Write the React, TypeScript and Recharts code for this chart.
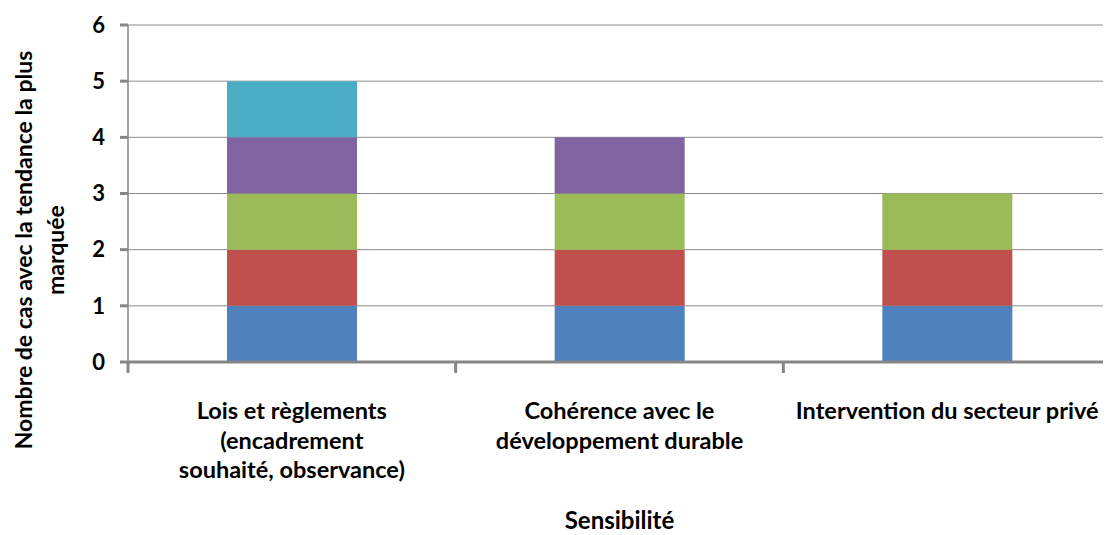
import React from 'react';
import { BarChart, Bar, XAxis, YAxis, CartesianGrid } from 'recharts';

const categories = [
  ['Lois et règlements', '(encadrement', 'souhaité, observance)'],
  ['Cohérence avec le', 'développement durable'],
  ['Intervention du secteur privé'],
];

// one array per stacked series, bottom to top
const serie1 = [1, 1, 1];
const serie2 = [1, 1, 1];
const serie3 = [1, 1, 1];
const serie4 = [1, 1, 0];
const serie5 = [1, 0, 0];

const yTicks = [0, 1, 2, 3, 4, 5, 6];

const seriesColors = ['#4F81BD', '#C0504D', '#9BBB59', '#8064A2', '#4BACC6'];

const data = categories.map((lines, i) => ({
  name: lines.join(' '),
  lines,
  s1: serie1[i],
  s2: serie2[i],
  s3: serie3[i],
  s4: serie4[i],
  s5: serie5[i],
}));

const FONT = 'Lato, "Liberation Sans", sans-serif';

const CategoryTick = (props: any) => {
  const { x, y, payload, index } = props;
  const lines = categories[index] || [payload.value];
  const band = 983 / 3;
  return (
    <g>
      <line x1={x - band / 2} x2={x - band / 2} y1={y - 8} y2={y + 3} stroke="#868686" strokeWidth={3} />
      <text x={x} y={y + 49} textAnchor="middle" fontFamily={FONT} fontWeight="bold" fontSize={23.5} fill="#000">
        {lines.map((l: string, i: number) => (
          <tspan key={i} x={x} dy={i === 0 ? 0 : 29.5}>{l}</tspan>
        ))}
      </text>
    </g>
  );
};

const YTitle = () => (
  <g>
    <text
      transform="translate(15, 242) rotate(-90)"
      textAnchor="middle"
      dominantBaseline="central"
      fontFamily={FONT}
      fontWeight="bold"
      fontSize={23}
      fill="#000"
    >
      Nombre de cas avec la tendance la plus
    </text>
    <text
      transform="translate(47, 242) rotate(-90)"
      textAnchor="middle"
      dominantBaseline="central"
      fontFamily={FONT}
      fontWeight="bold"
      fontSize={23}
      fill="#000"
    >
      marquée
    </text>
  </g>
);

const App: React.FC = () => {
  return (
    <div style={{ width: 1103, height: 527 }}>
      <BarChart
        width={1103}
        height={527}
        data={data}
        margin={{ top: 17, right: 0, left: 0, bottom: 0 }}
        barSize={130}
      >
        <CartesianGrid horizontal vertical={false} stroke="#8c8c8c" />
        <XAxis
          dataKey="name"
          axisLine={{ stroke: '#868686', strokeWidth: 3 }}
          tickLine={false}
          tick={<CategoryTick />}
          interval={0}
          height={173}
          label={{
            value: 'Sensibilité',
            position: 'insideBottom',
            offset: 6,
            style: { fontFamily: FONT, fontWeight: 'bold', fontSize: 24, fill: '#000' },
          }}
        />
        <YAxis
          width={120}
          domain={[0, 6]}
          ticks={yTicks}
          interval={0}
          axisLine={{ stroke: '#868686', strokeWidth: 1.5 }}
          tickLine={{ stroke: '#868686', strokeWidth: 3 }}
          tickSize={8}
          tickMargin={15}
          tick={{ fontFamily: FONT, fontWeight: 'bold', fontSize: 22, fill: '#000' }}
          label={<YTitle />}
        />
        <Bar dataKey="s1" stackId="a" fill={seriesColors[0]} isAnimationActive={false} />
        <Bar dataKey="s2" stackId="a" fill={seriesColors[1]} isAnimationActive={false} />
        <Bar dataKey="s3" stackId="a" fill={seriesColors[2]} isAnimationActive={false} />
        <Bar dataKey="s4" stackId="a" fill={seriesColors[3]} isAnimationActive={false} />
        <Bar dataKey="s5" stackId="a" fill={seriesColors[4]} isAnimationActive={false} />
      </BarChart>
    </div>
  );
};

export default App;
